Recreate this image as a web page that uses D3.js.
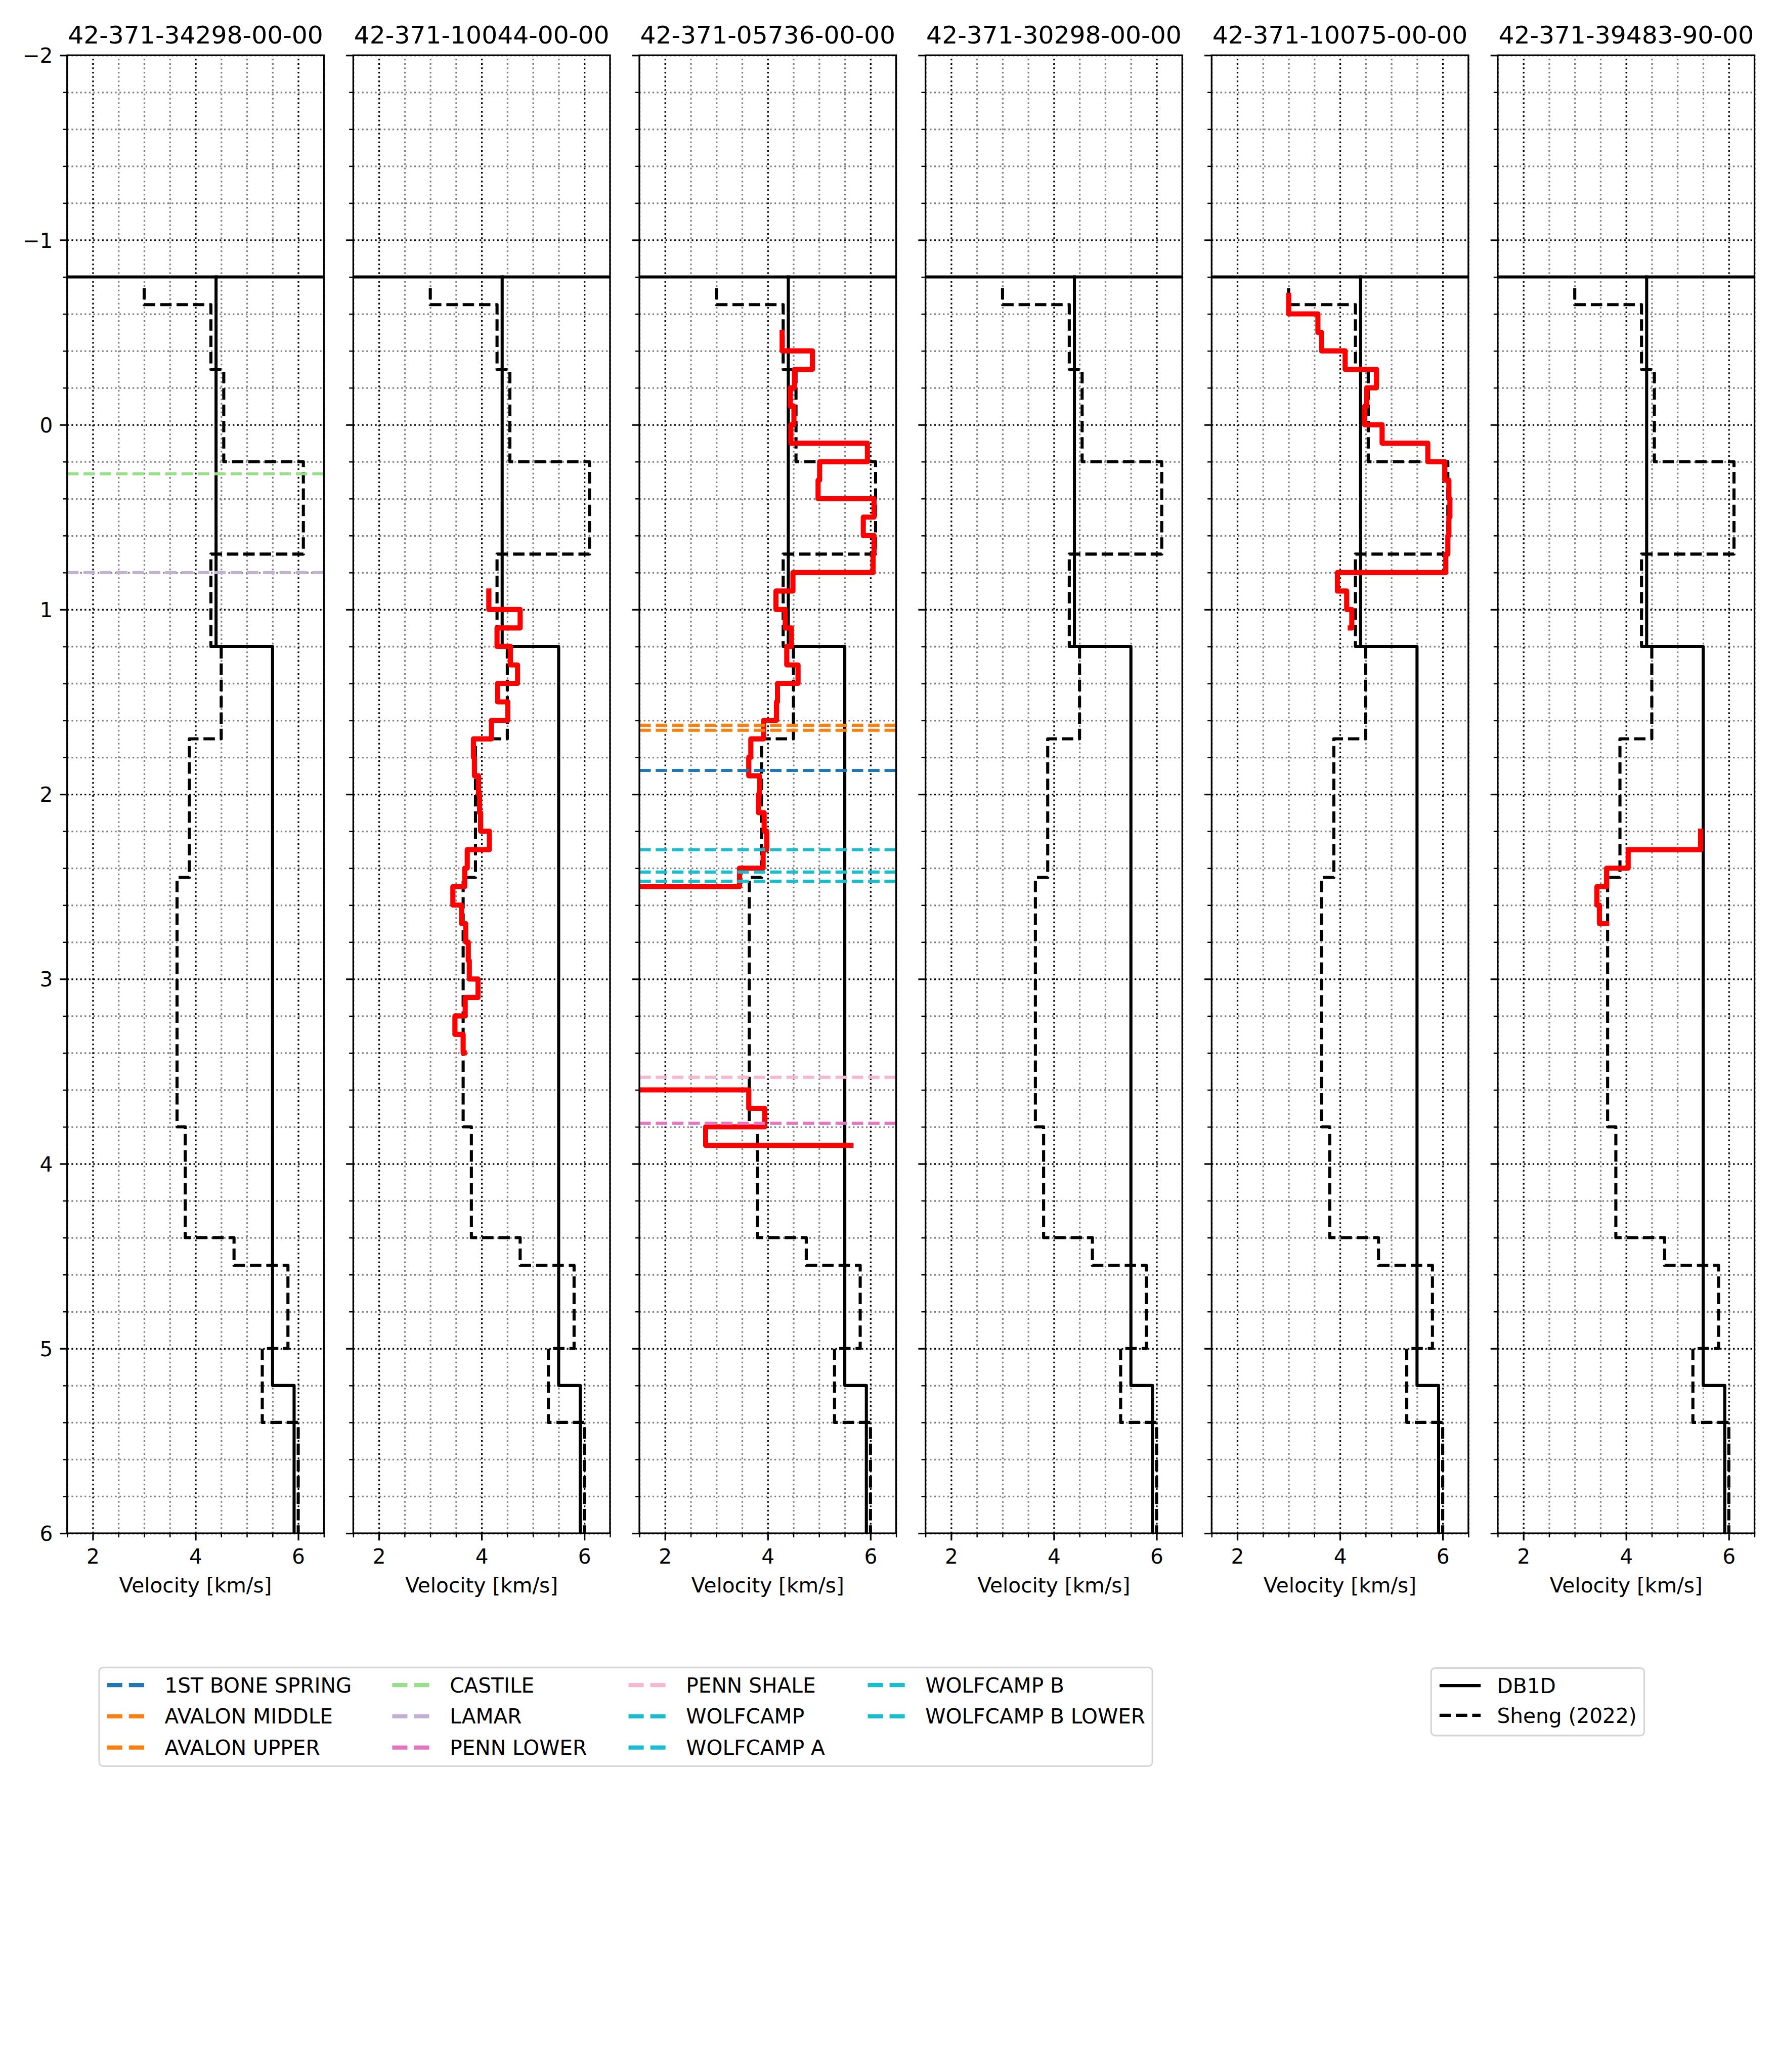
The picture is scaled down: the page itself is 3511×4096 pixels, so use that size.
<!DOCTYPE html>
<html><head><meta charset="utf-8">
<script src="https://cdn.jsdelivr.net/npm/d3@7"></script>
<style>html,body{margin:0;padding:0;background:#fff;overflow:hidden}</style>
</head><body>
<script>
// ---------------- DATA ----------------
const wellIds = ["42-371-34298-00-00","42-371-10044-00-00","42-371-05736-00-00","42-371-30298-00-00","42-371-10075-00-00","42-371-39483-90-00"];
const xTicks = [2, 4, 6];
const yTicks = [-2, -1, 0, 1, 2, 3, 4, 5, 6];
const yTickLabels = ["\u22122", "\u22121", "0", "1", "2", "3", "4", "5", "6"];
const xLabel = "Velocity [km/s]";

const surfaceElevation = -0.8;
const db1dTops = [-0.8, 1.2, 5.2];
const db1dVel  = [4.4, 5.5, 5.92];
const shengTops = [-0.74, -0.65, -0.3, 0.2, 0.7, 1.2, 1.7, 2.45, 3.8, 4.4, 4.55, 5.0, 5.4];
const shengVel  = [3.0, 4.3, 4.55, 6.1, 4.3, 4.5, 3.88, 3.64, 3.8, 4.75, 5.8, 5.3, 6.0];

// well logs (red), depth of each sample and velocity
const logDepth10044 = [0.9,1.0,1.1,1.2,1.3,1.4,1.5,1.6,1.7,1.8,1.9,2.0,2.1,2.2,2.3,2.4,2.5,2.6,2.7,2.8,2.9,3.0,3.1,3.2,3.3,3.4];
const logVel10044   = [4.14,4.75,4.30,4.56,4.70,4.31,4.51,4.19,3.84,3.86,3.94,3.96,3.98,4.15,3.72,3.67,3.44,3.61,3.69,3.74,3.76,3.93,3.68,3.48,3.64,3.66];

const logDepth05736 = [-0.5,-0.4,-0.3,-0.2,-0.1,0.0,0.1,0.2,0.3,0.4,0.5,0.6,0.7,0.8,0.9,1.0,1.1,1.2,1.3,1.4,1.5,1.6,1.7,1.8,1.9,2.0,2.1,2.2,2.3,2.4,2.5,2.6,2.7,2.8,2.9,3.0,3.1,3.2,3.3,3.4,3.5,3.6,3.7,3.8,3.9];
const logVel05736   = [4.28,4.87,4.52,4.44,4.51,4.45,5.94,5.01,4.98,6.07,5.86,6.07,6.05,4.49,4.16,4.34,4.46,4.37,4.59,4.19,4.17,3.92,3.67,3.63,3.84,3.82,3.93,3.98,3.91,3.45,0,0,0,0,0,0,0,0,0,0,0,3.63,3.94,2.79,5.62];

const logDepth10075 = [-0.7,-0.6,-0.5,-0.4,-0.3,-0.2,-0.1,0.0,0.1,0.2,0.3,0.4,0.5,0.6,0.7,0.8,0.9,1.0,1.1];
const logVel10075   = [3.00,3.57,3.64,4.10,4.71,4.52,4.48,4.82,5.71,6.04,6.12,6.14,6.12,6.10,6.06,3.95,4.13,4.23,4.20];

const logDepth39483 = [2.2,2.3,2.4,2.5,2.6,2.7];
const logVel39483   = [5.45,4.04,3.62,3.43,3.48,3.62];

// formation names (legend order) and their colours
const formationNames  = ["1ST BONE SPRING","AVALON MIDDLE","AVALON UPPER","CASTILE","LAMAR","PENN LOWER","PENN SHALE","WOLFCAMP","WOLFCAMP A","WOLFCAMP B","WOLFCAMP B LOWER"];
const formationColors = ["#1f77b4","#ff7f0e","#ff7f0e","#98df8a","#c5b0d5","#e377c2","#f7b6d2","#17becf","#17becf","#17becf","#17becf"];

// formation tops per well
const topsWell34298 = [["CASTILE",0.265],["LAMAR",0.80]];
const topsWell05736 = [["AVALON UPPER",1.627],["AVALON MIDDLE",1.654],["1ST BONE SPRING",1.871],["WOLFCAMP",2.30],["WOLFCAMP A",2.421],["WOLFCAMP B",2.471],["WOLFCAMP B LOWER",2.471],["PENN SHALE",3.532],["PENN LOWER",3.781]];

const modelNames = ["DB1D", "Sheng (2022)"];

// ---------------- LAYOUT ----------------
const logsByPanel = {1:[logDepth10044, logVel10044], 2:[logDepth05736, logVel05736], 4:[logDepth10075, logVel10075], 5:[logDepth39483, logVel39483]};
const topsByPanel = {0: topsWell34298, 2: topsWell05736};

const PT = 300/72;           // px per pt at 300 dpi
const FS = 10*PT, FST = 12*PT;
const axTop = 112, axBot = 3108, panelW = 520.5, left0 = 136, stride = 580;
const majorLen = 3.5*PT, minorLen = 2*PT, spineW = 0.8*PT;
const lw15 = 1.5*PT, lw2 = 2*PT, lwRed = 2.5*PT;
const dash15 = `${3.7*lw15} ${1.6*lw15}`, dash2 = `${3.7*lw2} ${1.6*lw2}`;
const gridW = 0.8*PT, gridDash = `${gridW} ${1.65*gridW}`;

const svg = d3.select("body").append("svg")
  .attr("width", 3511).attr("height", 4096)
  .attr("viewBox", "0 0 3600 4200")
  .style("font-family", "'DejaVu Sans', sans-serif");
svg.append("rect").attr("width", 3600).attr("height", 4200).attr("fill", "#fff");
const defs = svg.append("defs");

const yScale = d3.scaleLinear().domain([-2, 6]).range([axTop, axBot]);
const colorOf = n => formationColors[formationNames.indexOf(n)];

function stepPts(tops, vels, endDepth) {
  const p = [[vels[0], tops[0]]];
  for (let i = 1; i < tops.length; i++) { p.push([vels[i-1], tops[i]]); p.push([vels[i], tops[i]]); }
  if (endDepth !== undefined) p.push([vels[vels.length-1], endDepth]);
  return p;
}

const yMinor = d3.range(-2, 6.0001, 0.2).map(v => Math.round(v*10)/10).filter(v => Math.abs(v - Math.round(v)) > 1e-6);
const xMinor = d3.range(1.5, 6.5001, 0.5).filter(v => !xTicks.includes(v));

wellIds.forEach((id, k) => {
  const L = left0 + stride*k;
  const xScale = d3.scaleLinear().domain([1.5, 6.5]).range([L, L + panelW]);
  const line = d3.line().x(d => xScale(d[0])).y(d => yScale(d[1]));
  const g = svg.append("g");
  defs.append("clipPath").attr("id", "clip" + k).append("rect")
    .attr("x", L).attr("y", axTop).attr("width", panelW).attr("height", axBot - axTop);

  // grids
  const gridStyle = (sel, col) => { sel.select(".domain").remove(); sel.selectAll("text").remove();
    sel.selectAll("line").attr("stroke", col).attr("stroke-width", gridW).attr("stroke-dasharray", gridDash); };
  g.append("g").attr("transform", `translate(0,${axBot})`)
    .call(d3.axisBottom(xScale).tickValues(xMinor).tickSize(-(axBot-axTop)).tickFormat(""))
    .call(s => gridStyle(s, "#808080"));
  g.append("g").attr("transform", `translate(${L},0)`)
    .call(d3.axisLeft(yScale).tickValues(yMinor).tickSize(-panelW).tickFormat(""))
    .call(s => gridStyle(s, "#808080"));
  g.append("g").attr("transform", `translate(0,${axBot})`)
    .call(d3.axisBottom(xScale).tickValues(xTicks).tickSize(-(axBot-axTop)).tickFormat(""))
    .call(s => gridStyle(s, "#000"));
  g.append("g").attr("transform", `translate(${L},0)`)
    .call(d3.axisLeft(yScale).tickValues(yTicks).tickSize(-panelW).tickFormat(""))
    .call(s => gridStyle(s, "#000"));

  const plot = g.append("g").attr("clip-path", `url(#clip${k})`);
  // surface line
  plot.append("path").attr("d", line([[1.5, surfaceElevation],[6.5, surfaceElevation]]))
    .attr("fill","none").attr("stroke","#000").attr("stroke-width", lw15);
  // DB1D
  plot.append("path").attr("d", line(stepPts(db1dTops, db1dVel, 6.5)))
    .attr("fill","none").attr("stroke","#000").attr("stroke-width", lw15)
    .attr("stroke-linejoin","round").attr("stroke-linecap","square");
  // Sheng
  plot.append("path").attr("d", line(stepPts(shengTops, shengVel, 6.5)))
    .attr("fill","none").attr("stroke","#000").attr("stroke-width", lw15)
    .attr("stroke-dasharray", dash15).attr("stroke-linejoin","round");
  // well log
  if (logsByPanel[k]) {
    const [dd, vv] = logsByPanel[k];
    plot.append("path").attr("d", line(stepPts(dd, vv)))
      .attr("fill","none").attr("stroke","#ff0000").attr("stroke-width", lwRed)
      .attr("stroke-linejoin","round").attr("stroke-linecap","square");
  }
  // formation tops
  if (topsByPanel[k]) {
    topsByPanel[k].forEach(([name, dep]) => {
      plot.append("path").attr("d", line([[1.5, dep],[6.5, dep]]))
        .attr("fill","none").attr("stroke", colorOf(name)).attr("stroke-width", lw15)
        .attr("stroke-dasharray", dash15);
    });
  }

  // ticks
  const tickStyle = (sel, w) => { sel.select(".domain").remove(); sel.selectAll("line").attr("stroke","#000").attr("stroke-width", w); };
  g.append("g").attr("transform", `translate(0,${axBot})`)
    .call(d3.axisBottom(xScale).tickValues(xMinor).tickSize(minorLen).tickFormat(""))
    .call(s => { tickStyle(s, 0.6*PT); s.selectAll("text").remove(); });
  g.append("g").attr("transform", `translate(0,${axBot})`)
    .call(d3.axisBottom(xScale).tickValues(xTicks).tickSize(majorLen).tickFormat(d3.format("d")))
    .call(s => { tickStyle(s, spineW);
      s.selectAll("text").attr("y", 3170 - axBot).attr("dy", null)
        .attr("font-size", FS).attr("fill", "#000").attr("font-family", "'DejaVu Sans'"); });
  g.append("g").attr("transform", `translate(${L},0)`)
    .call(d3.axisLeft(yScale).tickValues(yMinor).tickSize(minorLen).tickFormat(""))
    .call(s => { tickStyle(s, 0.6*PT); s.selectAll("text").remove(); });
  g.append("g").attr("transform", `translate(${L},0)`)
    .call(d3.axisLeft(yScale).tickValues(yTicks).tickSize(majorLen).tickFormat((d, i) => yTickLabels[i]))
    .call(s => { tickStyle(s, spineW);
      if (k === 0) {
        s.selectAll("text").attr("x", -(majorLen + 3.5*PT)).attr("dy", null).attr("y", 15)
          .attr("font-size", FS).attr("fill", "#000").attr("font-family", "'DejaVu Sans'");
      } else s.selectAll("text").remove(); });

  // spines
  g.append("rect").attr("x", L).attr("y", axTop).attr("width", panelW).attr("height", axBot - axTop)
    .attr("fill","none").attr("stroke","#000").attr("stroke-width", spineW);

  // title & xlabel
  g.append("text").attr("x", L + panelW/2).attr("y", 88).attr("text-anchor","middle")
    .attr("font-size", FST).text(id);
  g.append("text").attr("x", L + panelW/2).attr("y", 3228).attr("text-anchor","middle")
    .attr("font-size", FS).text(xLabel);
});

// ---------------- LEGENDS ----------------
function frame(x0, y0, x1, y1) {
  svg.append("rect").attr("x", x0).attr("y", y0).attr("width", x1 - x0).attr("height", y1 - y0)
    .attr("rx", 8).attr("ry", 8).attr("fill", "#fff").attr("stroke", "#d6d6d6").attr("stroke-width", spineW);
}
frame(201, 3380, 2336, 3580);
const legColX = [217, 795, 1274, 1759];
const legRowY = [3415.7, 3479, 3542.3];
const handleLen = 2*FS;
formationNames.forEach((n, i) => {
  const c = Math.floor(i/3), r = i % 3;
  const hx = legColX[c], hy = legRowY[r];
  svg.append("line").attr("x1", hx).attr("x2", hx + handleLen).attr("y1", hy).attr("y2", hy)
    .attr("stroke", formationColors[i]).attr("stroke-width", lw2).attr("stroke-dasharray", dash2);
  svg.append("text").attr("x", hx + handleLen + 0.8*FS).attr("y", hy + 15).attr("font-size", FS).text(n);
});

frame(2901, 3381, 3333, 3518);
const leg2Y = [3416.7, 3477];
modelNames.forEach((n, i) => {
  const hx = 2918, hy = leg2Y[i];
  const ln = svg.append("line").attr("x1", hx).attr("x2", hx + handleLen).attr("y1", hy).attr("y2", hy)
    .attr("stroke", "#000").attr("stroke-width", lw15);
  if (i === 1) ln.attr("stroke-dasharray", dash15);
  svg.append("text").attr("x", hx + handleLen + 0.8*FS).attr("y", hy + 15).attr("font-size", FS).text(n);
});
</script>
</body></html>
